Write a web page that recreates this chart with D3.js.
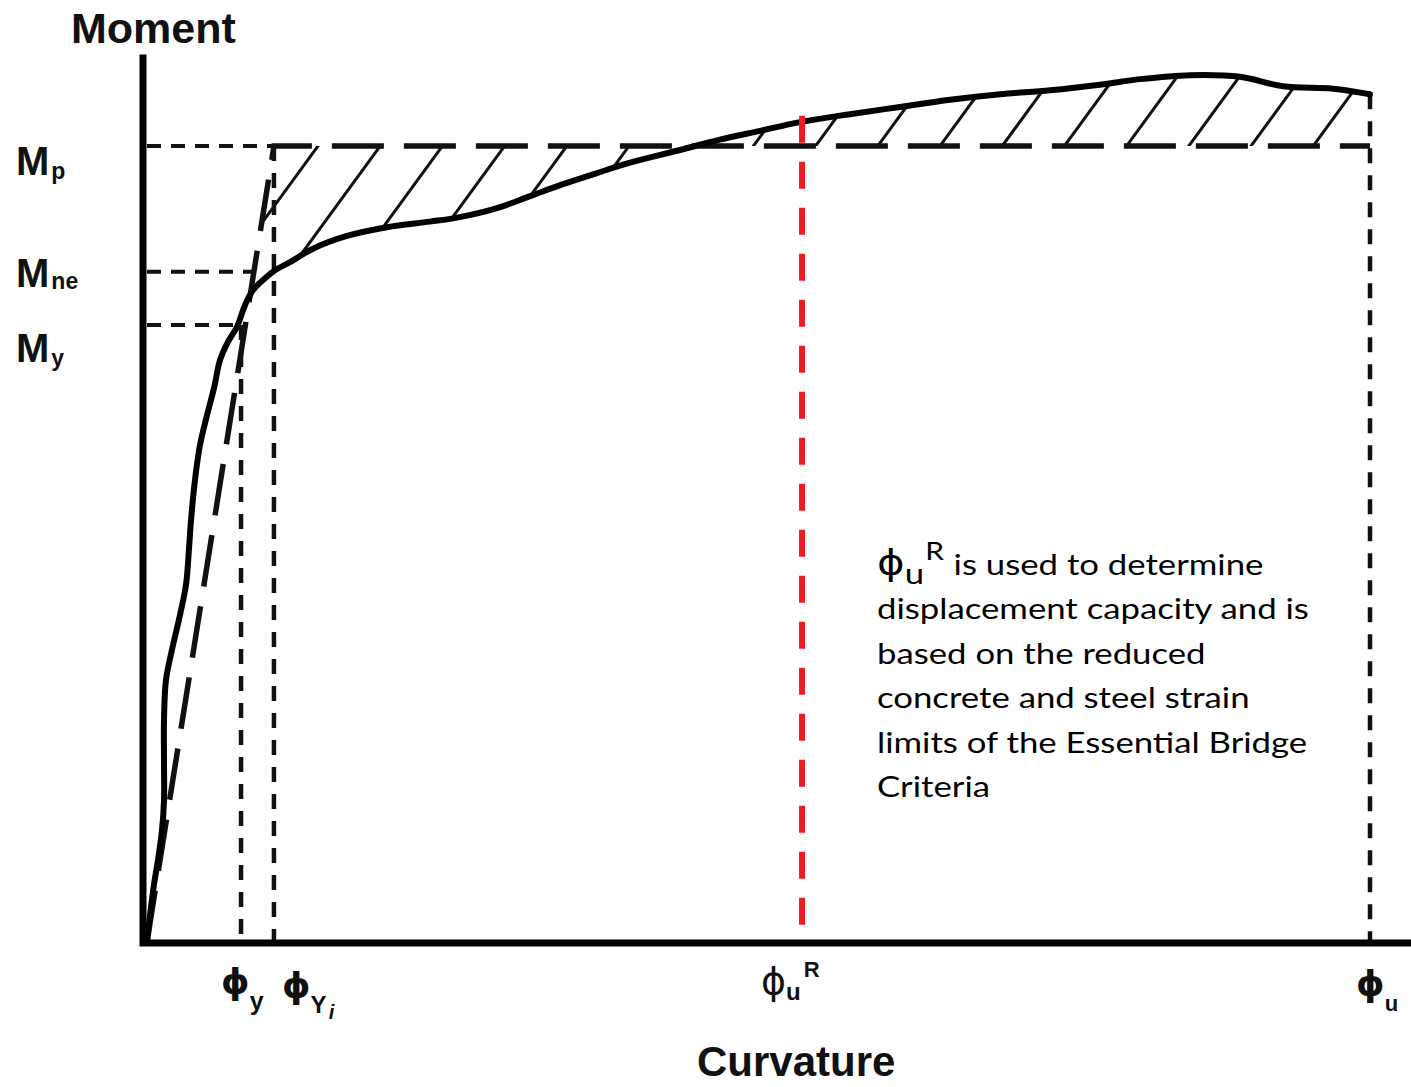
<!DOCTYPE html>
<html>
<head>
<meta charset="utf-8">
<script src="https://cdn.jsdelivr.net/npm/d3@7"></script>
<style>
  body { margin: 0; background: #fff; }
</style>
</head>
<body>
<div id="chart"></div>
<script>
// Moment-curvature curve (curvature: phi_u = 100, moment: Mp = 100)
const curveCurvature = [0, 0.25, 0.57, 0.90, 1.23, 1.39, 1.39, 1.39, 1.55, 2.04,
    2.70, 3.19, 3.43, 3.60, 3.92, 4.33, 4.91, 5.48, 5.97, 6.62,
    7.36, 8.01, 8.67, 9.65, 10.47, 11.69, 13.57, 16.35, 19.62, 23.14,
    25.35, 28.62, 31.32, 34.01, 36.79, 39.49, 43.58, 46.85, 50.12, 53.39,
    57.48, 61.57, 65.66, 69.75, 73.83, 77.92, 81.19, 85.28, 89.37, 92.89,
    96.97, 100];
const curveMoment = [0, 3.4, 7.2, 10.3, 14.1, 17.8, 22.9, 27.9, 32.9, 36.7,
    41.1, 44.9, 49.3, 53.0, 58.0, 62.4, 66.2, 69.6, 73.1, 75.4,
    77.3, 80.0, 81.9, 83.4, 84.4, 85.4, 87.1, 88.7, 89.8, 90.5,
    91.0, 92.2, 93.7, 95.2, 96.6, 97.9, 99.5, 100.8, 101.9, 103.0,
    104.0, 104.9, 105.8, 106.5, 107.0, 107.7, 108.4, 108.9, 108.7, 107.5,
    107.2, 106.5];

// moment levels: Mp, Mne, My
const momentNames = ["p", "ne", "y"];
const momentValues = [100, 84.2, 77.5];

// curvature marks: phi_y, phi_Yi, phi_u^R, phi_u
const phiY = 7.69, phiYi = 10.38, phiUR = 53.56, phiU = 100;

const noteLines = ["displacement capacity and is", "based on the reduced",
    "concrete and steel strain", "limits of the Essential Bridge", "Criteria"];

const W = 1411, H = 1087;
const [Mp, Mne, My] = momentValues;

const x = d3.scaleLinear().domain([0, 100]).range([147, 1370]);
const y = d3.scaleLinear().domain([0, 100]).range([942, 146]);

const pts = curveCurvature.map((c, i) => ({c: c, m: curveMoment[i]}));

const momentAt = c => {
    const i = d3.bisector(d => d.c).left(pts, c);
    if (i <= 0) return pts[0].m;
    if (i >= pts.length) return pts[pts.length - 1].m;
    const a = pts[i - 1], b = pts[i];
    return a.m + (b.m - a.m) * (c - a.c) / (b.c - a.c);
};
const elastic = c => Mp * c / phiYi;

const svg = d3.select("#chart")
    .append("svg")
    .attr("width", W)
    .attr("height", H)
    .style("background", "#fff");

const line = d3.line().x(d => x(d.c)).y(d => y(d.m));

// hatched region between the curve, the elastic line and Mp
const k = pts.findIndex(p => p.c > 0 && elastic(p.c) >= p.m);
const pa = pts[k - 1], pb = pts[k];
const da = elastic(pa.c) - pa.m, db = elastic(pb.c) - pb.m;
const t = da / (da - db);
const cross = {c: pa.c + t * (pb.c - pa.c), m: pa.m + t * (pb.m - pa.m)};
const hatchPoly = [{c: phiYi, m: Mp}, cross, ...pts.slice(k), {c: phiU, m: Mp}];

svg.append("clipPath")
    .attr("id", "hatch-clip")
    .append("path")
    .attr("d", line(hatchPoly) + "Z");

const slope = 1.37;
svg.append("g")
    .attr("clip-path", "url(#hatch-clip)")
    .selectAll("line")
    .data(d3.range(0, 18).map(i => 318 + i * 62.2))
    .join("line")
    .attr("x1", px => px - 130 / slope)
    .attr("y1", y(Mp) + 130)
    .attr("x2", px => px + 100 / slope)
    .attr("y2", y(Mp) - 100)
    .attr("stroke", "#111")
    .attr("stroke-width", 3);

// short dashed reference lines to the moment axis
const refEnds = [phiYi, phiYi * Mne / Mp, phiY];
svg.append("g")
    .selectAll("line")
    .data(momentValues)
    .join("line")
    .attr("x1", x(0))
    .attr("x2", (d, i) => x(refEnds[i]))
    .attr("y1", d => y(d))
    .attr("y2", d => y(d))
    .attr("stroke", "#111")
    .attr("stroke-width", 4)
    .attr("stroke-dasharray", "14,10");

// vertical dashed lines down to the curvature axis
const verticals = [[phiY, My], [phiYi, Mp], [phiU, momentAt(phiU)]];
svg.append("g")
    .selectAll("line")
    .data(verticals)
    .join("line")
    .attr("x1", d => x(d[0]))
    .attr("x2", d => x(d[0]))
    .attr("y1", d => y(d[1]))
    .attr("y2", y(0))
    .attr("stroke", "#111")
    .attr("stroke-width", 4.5)
    .attr("stroke-dasharray", "15,12");

// idealized elastic-plastic line (long dashes)
svg.append("path")
    .attr("d", line([{c: 0, m: 0}, {c: phiYi, m: Mp}, {c: phiU, m: Mp}]))
    .attr("fill", "none")
    .attr("stroke", "#111")
    .attr("stroke-width", 5.5)
    .attr("stroke-dasharray", "52,20");

// moment-curvature curve
svg.append("path")
    .datum(pts)
    .attr("d", line.curve(d3.curveCatmullRom.alpha(0.5)))
    .attr("fill", "none")
    .attr("stroke", "#000")
    .attr("stroke-width", 6)
    .attr("stroke-linejoin", "round")
    .attr("stroke-linecap", "round");
line.curve(d3.curveLinear);

// red phi_u^R line
svg.append("line")
    .attr("x1", x(phiUR))
    .attr("x2", x(phiUR))
    .attr("y1", y(momentAt(phiUR)) - 6)
    .attr("y2", y(0) - 6)
    .attr("stroke", "#ee1c24")
    .attr("stroke-width", 6)
    .attr("stroke-dasharray", "27,19");

// axes
svg.append("path")
    .attr("d", `M${x(0) - 4},${y(111.5)}V${y(0) + 1}H${W}`)
    .attr("fill", "none")
    .attr("stroke", "#000")
    .attr("stroke-width", 7);

// axis titles
svg.append("text")
    .attr("x", 71).attr("y", 43)
    .attr("font-family", "Liberation Sans, Arial, sans-serif")
    .attr("font-weight", "bold")
    .attr("font-size", 43)
    .attr("fill", "#111")
    .text("Moment");

svg.append("text")
    .attr("x", 697).attr("y", 1076)
    .attr("font-family", "Liberation Sans, Arial, sans-serif")
    .attr("font-weight", "bold")
    .attr("font-size", 42)
    .attr("fill", "#111")
    .text("Curvature");

// moment labels
const labelDy = [29, 15, 37];
const subDy = [4, 2, 4];
const mLabels = svg.append("g")
    .attr("font-family", "Liberation Sans, Arial, sans-serif")
    .attr("font-weight", "bold")
    .attr("fill", "#111")
    .selectAll("text")
    .data(momentValues)
    .join("text")
    .attr("x", 16)
    .attr("y", (d, i) => y(d) + labelDy[i])
    .attr("font-size", 40);
mLabels.append("tspan").text("M");
mLabels.append("tspan")
    .attr("font-size", 23)
    .attr("dx", 2)
    .attr("dy", (d, i) => subDy[i])
    .text((d, i) => momentNames[i]);

// curvature labels
const phiFont = "DejaVu Sans, Liberation Sans, sans-serif";
const boldSans = "Liberation Sans, Arial, sans-serif";

const gy = svg.append("text").attr("x", x(phiY) - 20).attr("y", 994).attr("fill", "#111");
gy.append("tspan").attr("font-family", phiFont).attr("font-weight", "bold").attr("font-size", 36).text("ϕ");
gy.append("tspan").attr("font-family", boldSans).attr("font-weight", "bold").attr("font-size", 25).attr("dy", 16).text("y");

const gyi = svg.append("text").attr("x", x(phiYi) + 8).attr("y", 998).attr("fill", "#111");
gyi.append("tspan").attr("font-family", phiFont).attr("font-weight", "bold").attr("font-size", 36).text("ϕ");
gyi.append("tspan").attr("font-family", boldSans).attr("font-weight", "bold").attr("font-size", 24).attr("dy", 15).text("Y");
gyi.append("tspan").attr("font-family", boldSans).attr("font-weight", "bold").attr("font-style", "italic")
    .attr("font-size", 20).attr("dx", 2).attr("dy", 6).text("i");

const gur = svg.append("text").attr("x", x(phiUR) - 41).attr("y", 994).attr("fill", "#111");
gur.append("tspan").attr("font-family", phiFont).attr("font-size", 38).text("ϕ");
gur.append("tspan").attr("font-family", boldSans).attr("font-weight", "bold").attr("font-size", 24).attr("dy", 6).text("u");
gur.append("tspan").attr("font-family", boldSans).attr("font-weight", "bold").attr("font-size", 22).attr("dx", 3).attr("dy", -23).text("R");

const gu = svg.append("text").attr("x", x(phiU) - 14).attr("y", 996).attr("fill", "#111");
gu.append("tspan").attr("font-family", phiFont).attr("font-weight", "bold").attr("font-size", 36).text("ϕ");
gu.append("tspan").attr("font-family", boldSans).attr("font-weight", "bold").attr("font-size", 22).attr("dy", 15).text("u");

// annotation text
const note = svg.append("g")
    .attr("font-family", "Lato, Open Sans, sans-serif")
    .attr("font-size", 29)
    .attr("fill", "#000");

const first = note.append("text").attr("x", 0).attr("y", 0);
first.append("tspan").attr("font-family", phiFont).attr("font-size", 35).text("ϕ");
first.append("tspan").attr("dy", 9).text("u");
first.append("tspan").attr("dy", -24).attr("dx", 1).attr("font-size", 25).text("R");
first.append("tspan").attr("dy", 15).attr("dx", 8).text("is used to determine");

note.selectAll("text.rest")
    .data(noteLines)
    .join("text")
    .attr("class", "rest")
    .attr("x", 0)
    .attr("y", (d, i) => (i + 1) * 44.4)
    .text(d => d);

const refWidth = note.selectAll("text.rest").nodes()[0].getComputedTextLength();
const sx = 432 / refWidth;
note.attr("transform", `translate(877,575) scale(${sx},1)`);
</script>
</body>
</html>
